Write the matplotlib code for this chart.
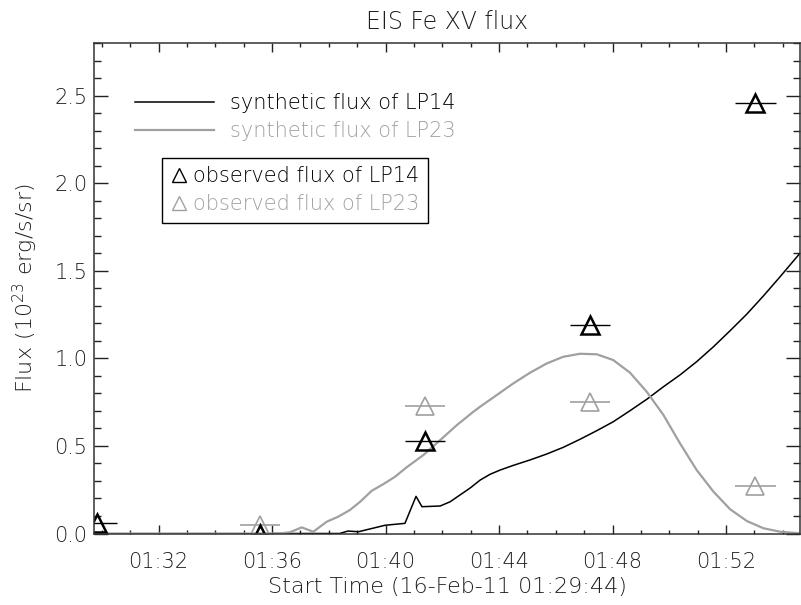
import numpy as np
import matplotlib
matplotlib.use("Agg")
import matplotlib.pyplot as plt
from matplotlib.lines import Line2D
from matplotlib.ticker import FixedLocator, FuncFormatter

plt.rcParams["font.family"] = ["DejaVu Sans"]
plt.rcParams["font.weight"] = "light"
plt.rcParams["axes.titleweight"] = "light"
plt.rcParams["axes.labelweight"] = "light"
plt.rcParams["mathtext.fontset"] = "custom"
plt.rcParams["mathtext.rm"] = "DejaVu Sans:light"
plt.rcParams["mathtext.default"] = "rm"

# time axis: minutes after 01:29:44
t0_sec = 1 * 3600 + 29 * 60 + 44

# synthetic flux curves
lp14_t = [6.3, 8.65, 8.94, 9.31, 10.25, 10.95, 11.34, 11.55, 12.19, 12.54, 13.25,
          13.60, 13.95, 14.30, 14.77, 15.36, 15.95, 16.53, 17.12, 17.71, 18.29,
          18.88, 19.47, 20.06, 20.64, 21.23, 21.82, 22.41, 23.00, 23.58, 24.17, 24.87]
lp14_f = [0.0, 0.0, 0.014, 0.010, 0.047, 0.058, 0.212, 0.153, 0.157, 0.181, 0.26,
          0.305, 0.338, 0.362, 0.389, 0.420, 0.454, 0.492, 0.538, 0.587, 0.638,
          0.701, 0.766, 0.838, 0.905, 0.981, 1.066, 1.158, 1.253, 1.356, 1.466, 1.600]

lp23_t = [0.0, 6.20, 6.55, 6.90, 7.31, 7.72, 8.19, 8.60, 9.01, 9.37, 9.78, 10.19,
          10.60, 11.01, 11.60, 12.19, 12.78, 13.36, 13.60, 14.19, 14.77, 15.36,
          15.95, 16.53, 17.12, 17.71, 18.29, 18.88, 19.47, 20.06, 20.64, 21.23,
          21.82, 22.41, 23.00, 23.58, 24.17, 24.87]
lp23_f = [0.0, 0.0, 0.0, 0.007, 0.035, 0.010, 0.067, 0.096, 0.134, 0.181, 0.244,
          0.282, 0.324, 0.378, 0.448, 0.533, 0.619, 0.695, 0.724, 0.791, 0.857,
          0.918, 0.971, 1.009, 1.026, 1.023, 0.990, 0.918, 0.809, 0.676, 0.515,
          0.362, 0.239, 0.138, 0.071, 0.030, 0.010, 0.001]

# observed EIS fluxes
obs_t = [0.1, 5.84, 11.66, 17.47, 23.30]
obs_lp14 = [0.06, 0.0, 0.53, 1.19, 2.46]
obs_lp23 = [np.nan, 0.047, 0.73, 0.75, 0.27]
obs_dt = 0.715

grey = "#a0a0a0"
ink = "#1e1e1e"
fs_tick = 15
fs_lab = 16

fig = plt.figure(figsize=(8.01, 6.05), dpi=100)
ax = fig.add_axes([94.2 / 801, 71.5 / 605, 705.8 / 801, 490.5 / 605])

l14, = ax.plot(lp14_t, lp14_f, color="black", lw=1.1, label="synthetic flux of LP14")
l23, = ax.plot(lp23_t, lp23_f, color=grey, lw=1.6, label="synthetic flux of LP23")

ax.errorbar(obs_t, obs_lp14, xerr=obs_dt, fmt="^", ms=12.5, mfc="none", mec="black",
            mew=1.8, ecolor="black", elinewidth=1.0, capsize=0)
ax.errorbar(obs_t, obs_lp23, xerr=obs_dt, fmt="^", ms=12.5, mfc="none", mec=grey,
            mew=1.2, ecolor=grey, elinewidth=1.2, capsize=0)

ax.set_xlim(0, 24.87)
ax.set_ylim(0, 2.8)

major_x = [2.2667 + 4 * k for k in range(6)]
minor_x = [0.2667 + k for k in range(25)]
ax.xaxis.set_major_locator(FixedLocator(major_x))
ax.xaxis.set_minor_locator(FixedLocator(minor_x))

def hhmm(x, pos):
    s = int(round(t0_sec + x * 60))
    return "%02d:%02d" % (s // 3600, (s % 3600) // 60)

ax.xaxis.set_major_formatter(FuncFormatter(hhmm))
ax.set_yticks(np.arange(0, 2.6, 0.5))
ax.yaxis.set_minor_locator(FixedLocator(np.arange(0, 2.81, 0.1)))
ax.yaxis.set_major_formatter(FuncFormatter(lambda v, p: "%.1f" % v))

ax.tick_params(axis="x", which="major", direction="in", length=6.5, width=1,
               top=True, labelsize=fs_tick, pad=13, colors="#222222",
               labelcolor=ink)
ax.tick_params(axis="x", which="minor", direction="in", length=3, width=1, top=True,
               colors="#222222")
ax.tick_params(axis="y", which="major", direction="in", length=10, width=1,
               right=True, labelsize=fs_tick, pad=5, colors="#222222",
               labelcolor=ink)
ax.tick_params(axis="y", which="minor", direction="in", length=5, width=1, right=True,
               colors="#222222")
for sp in ax.spines.values():
    sp.set_color("#333333")
    sp.set_linewidth(1.1)

ax.set_title("EIS Fe XV flux", fontsize=17, pad=10, color=ink)
ax.set_xlabel("Start Time (16-Feb-11 01:29:44)", fontsize=fs_lab, labelpad=4,
              color=ink)
ax.set_ylabel("Flux (10$^{23}$ erg/s/sr)", fontsize=fs_lab, labelpad=10, color=ink)

leg1 = ax.legend(handles=[l14, l23], loc="upper left",
                 bbox_to_anchor=(0.058, 0.898), frameon=False, fontsize=15,
                 handlelength=3.8, handletextpad=0.75, labelspacing=0.38,
                 borderpad=0, borderaxespad=0, labelcolor="linecolor")
ax.add_artist(leg1)

h14 = Line2D([], [], marker="^", ls="none", ms=10, mfc="none", mec="black", mew=1.0)
h23 = Line2D([], [], marker="^", ls="none", ms=10, mfc="none", mec=grey, mew=1.0)
leg2 = ax.legend([h14, h23], ["observed flux of LP14", "observed flux of LP23"],
                 loc="upper left", bbox_to_anchor=(0.096, 0.7655), fontsize=15,
                 handlelength=0.8, handletextpad=0.3, labelspacing=0.38,
                 borderpad=0.4, borderaxespad=0, fancybox=False,
                 edgecolor="black", framealpha=1, labelcolor="markeredgecolor")
leg2.get_frame().set_linewidth(1.0)

fig.savefig("out.png", dpi=100)
